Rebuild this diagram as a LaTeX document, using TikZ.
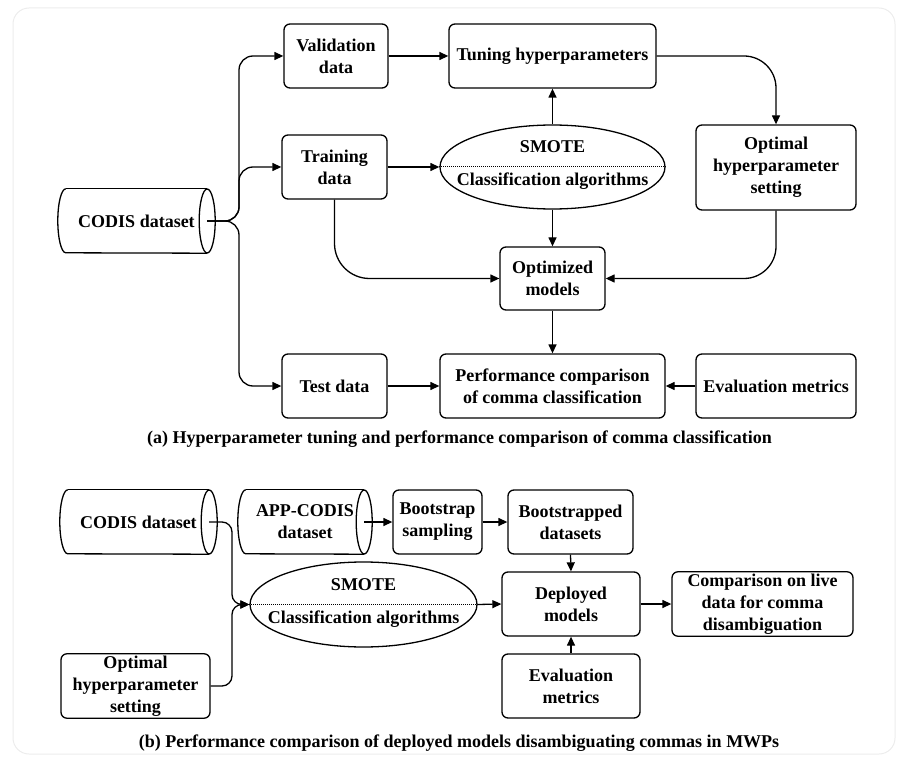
\documentclass[tikz,border=0pt]{standalone}
\usepackage{fontspec}
\setmainfont{Liberation Serif}
\usetikzlibrary{arrows.meta,shapes.geometric,calc}
\tikzset{
  ln/.style={line width=1.3pt},
  box/.style={draw, ln, rounded corners=6pt, align=center, font=\fontsize{18}{22}\selectfont\bfseries, inner sep=2pt},
  cyl/.style={align=center, font=\fontsize{18}{22}\selectfont\bfseries, inner sep=2pt},
  ell/.style={draw, ln, ellipse, inner sep=0pt},
  etext/.style={font=\fontsize{18}{22}\selectfont\bfseries, inner sep=0pt, anchor=base},
  arr/.style={ln, -{Triangle[length=9pt,width=8pt]}},
  captext/.style={font=\fontsize{18}{22}\selectfont\bfseries, inner sep=0pt},
}
\newcommand\cylout[1]{%
  \draw[ln] ([xshift=8pt]#1.north west) arc[start angle=90,end angle=270,x radius=8pt,y radius=32pt] -- ([xshift=-8pt]#1.south east);
  \draw[ln] ([xshift=8pt]#1.north west) -- ([xshift=-8pt]#1.north east);
  \draw[ln] ([xshift=-8pt]#1.east) ellipse[x radius=8pt, y radius=32pt];
}
\begin{document}
\begin{tikzpicture}[x=1pt,y=1pt]
\useasboundingbox (0,0) rectangle (900,-762);
\draw[gray!15, line width=1pt, rounded corners=16pt] (13,-8) rectangle (895,-754);

% ---------- (a) ----------
\node[box, minimum width=104pt, minimum height=64pt] (val) at (336,-56) {Validation\\data};
\node[box, minimum width=207pt, minimum height=64pt] (tune) at (552.5,-56) {Tuning hyperparameters};
\node[box, minimum width=105pt, minimum height=64pt] (train) at (334.5,-167) {Training\\data};
\node[ell, minimum width=225pt, minimum height=84pt] (ell1) at (552.5,-167) {};
\draw[densely dotted, line width=1pt] (ell1.west) -- (ell1.east);
\node[etext] (ell1a) at (552.5,-153) {SMOTE};
\node[etext] (ell1b) at (552.5,-186) {Classification algorithms};
\node[box, minimum width=160pt, minimum height=85pt] (opt) at (776,-167.5) {Optimal\\hyperparameter\\setting};
\node[box, minimum width=105pt, minimum height=63pt] (optm) at (552.5,-278.5) {Optimized\\models};
\node[cyl, minimum width=157pt, minimum height=64pt] (cod1) at (136.5,-221) {CODIS dataset};
\cylout{cod1}
\node[box, minimum width=105pt, minimum height=64pt] (test) at (334.5,-386) {Test data};
\node[box, minimum width=225pt, minimum height=64pt] (perf) at (552.5,-386) {Performance comparison\\of comma classification};
\node[box, minimum width=160pt, minimum height=64pt] (eval1) at (776,-386) {Evaluation metrics};
\node[captext] (capa) at (459.5,-439) {(a) Hyperparameter tuning and performance comparison of comma classification};

\coordinate (ta) at (239,-221);
\draw[arr, rounded corners=14pt] ([xshift=-8pt]cod1.east) -- (ta) |- (val.west);
\draw[arr, rounded corners=14pt] ([xshift=-8pt]cod1.east) -- (ta) |- (train.west);
\draw[arr, rounded corners=14pt] ([xshift=-8pt]cod1.east) -- (ta) |- (test.west);
\draw[arr] (val.east) -- (tune.west);
\draw[arr] (train.east) -- (ell1.west);
\draw[arr] (ell1.north) -- (tune.south);
\draw[arr] (ell1.south) -- (optm.north);
\draw[arr, rounded corners=32pt] (tune.east) -| (opt.north);
\draw[arr, rounded corners=32pt] (opt.south) |- (optm.east);
\draw[arr, rounded corners=35pt] (train.south) |- (optm.west);
\draw[arr] (optm.south) -- (perf.north);
\draw[arr] (test.east) -- (perf.west);
\draw[arr] (eval1.west) -- (perf.east);

% ---------- (b) ----------
\node[cyl, minimum width=157pt, minimum height=64pt] (cod2) at (138.5,-522) {CODIS dataset};
\cylout{cod2}
\node[cyl, minimum width=134pt, minimum height=64pt] (app) at (305,-522) {APP-CODIS\\dataset};
\cylout{app}
\node[box, minimum width=89pt, minimum height=64pt] (boot) at (437.5,-522) {Bootstrap\\sampling};
\node[box, minimum width=125pt, minimum height=64pt] (bds) at (570.5,-522) {Bootstrapped\\datasets};
\node[ell, minimum width=227pt, minimum height=85pt] (ell2) at (363.5,-604.5) {};
\draw[densely dotted, line width=1pt] (ell2.west) -- (ell2.east);
\node[etext] (ell2a) at (363.5,-590.5) {SMOTE};
\node[etext] (ell2b) at (363.5,-623.5) {Classification algorithms};
\node[box, minimum width=138pt, minimum height=64pt] (dep) at (571,-604) {Deployed\\models};
\node[box, minimum width=181pt, minimum height=64pt] (cmp) at (762.5,-604) {Comparison on live\\data for comma\\disambiguation};
\node[box, minimum width=138pt, minimum height=64pt] (eval2) at (571,-686) {Evaluation\\metrics};
\node[box, minimum width=149pt, minimum height=64pt] (opt2) at (135.5,-686) {Optimal\\hyperparameter\\setting};
\node[captext] (capb) at (459,-743) {(b) Performance comparison of deployed models disambiguating commas in MWPs};

\coordinate (tb) at (232,-604.5);
\draw[arr, rounded corners=10pt] ([xshift=-8pt]cod2.east) -| (tb) -- (ell2.west);
\draw[arr, rounded corners=10pt] (opt2.east) -| (tb) -- (ell2.west);
\draw[arr] ([xshift=-8pt]app.east) -- (boot.west);
\draw[arr] (boot.east) -- (bds.west);
\draw[arr] (bds.south) -- (dep.north);
\draw[arr] (ell2.east) -- (dep.west);
\draw[arr] (dep.east) -- (cmp.west);
\draw[arr] (eval2.north) -- (dep.south);
\end{tikzpicture}
\end{document}
